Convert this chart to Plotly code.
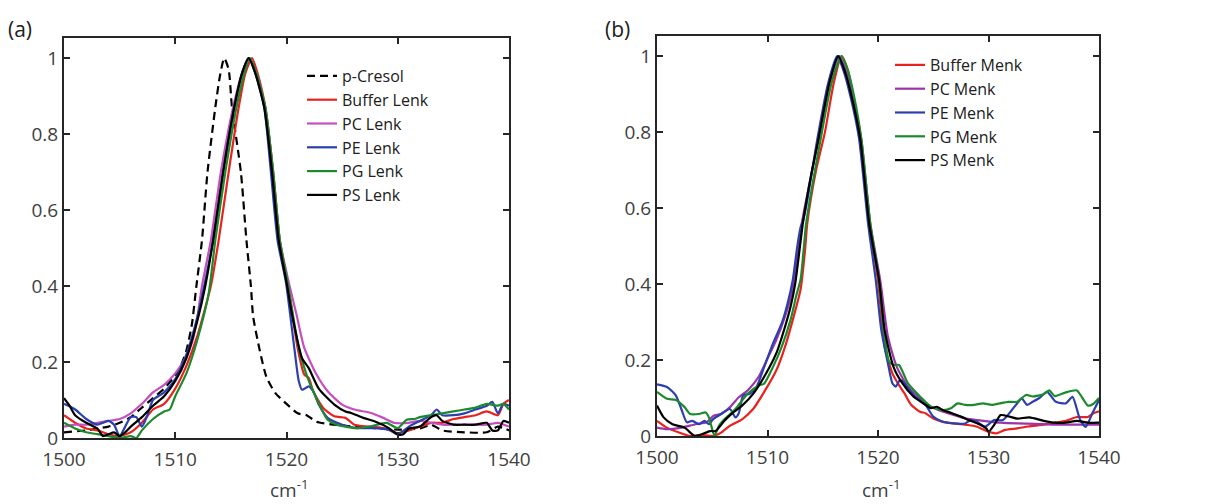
import plotly.graph_objects as go

# ---------------- Panel (a) data ----------------
pcresol_x = [1500, 1502, 1503, 1504, 1505, 1506, 1507, 1508, 1509, 1510, 1510.5, 1511, 1511.5, 1511.9, 1512.4, 1512.9, 1513.6, 1514.0, 1514.4,
             1514.8, 1515.1, 1515.9, 1516.4, 1516.8, 1517.0, 1517.6, 1518.2, 1519.0, 1520.0, 1521.0, 1521.8, 1522.7, 1524.0, 1527.0,
             1530.0, 1532.0, 1533.0, 1534.0, 1536.0, 1538.0, 1539.0, 1540.0]
pcresol_y = [0.015, 0.02, 0.025, 0.03, 0.04, 0.055, 0.08, 0.105, 0.13, 0.165, 0.19, 0.23, 0.30, 0.40, 0.52, 0.70, 0.87, 0.95, 1.0,
             0.97, 0.87, 0.70, 0.52, 0.40, 0.32, 0.23, 0.16, 0.118, 0.09, 0.065, 0.06, 0.043, 0.036, 0.028,
             0.022, 0.025, 0.035, 0.02, 0.015, 0.015, 0.03, 0.02]

buffer_lenk_x = [1500, 1501, 1502, 1503, 1504, 1505, 1506, 1507, 1508, 1509, 1510, 1511, 1512, 1513.2, 1513.9, 1514.8, 1515.7, 1516.3,
                 1516.9, 1517.4, 1518.1, 1518.8, 1519.4, 1520.1, 1521.0, 1521.6, 1522.0, 1522.4, 1523.3, 1524.3, 1525.3, 1526.1,
                 1527.1, 1528.7, 1530.0, 1531, 1532, 1533, 1534, 1535, 1536, 1537, 1538, 1539, 1539.5, 1540]
buffer_lenk_y = [0.06, 0.04, 0.025, 0.02, 0.01, 0.005, 0.015, 0.04, 0.075, 0.09, 0.13, 0.19, 0.27, 0.40, 0.52, 0.70, 0.87, 0.96,
                 1.0, 0.96, 0.87, 0.70, 0.52, 0.41, 0.237, 0.167, 0.158, 0.123, 0.079, 0.057, 0.053, 0.035,
                 0.031, 0.026, 0.013, 0.02, 0.03, 0.04, 0.04, 0.05, 0.055, 0.06, 0.07, 0.06, 0.09, 0.1]

pc_lenk_x = [1500, 1501, 1502, 1503, 1504, 1505, 1506, 1507, 1508, 1509, 1510, 1511, 1511.5, 1512, 1512.4, 1513.2, 1514.1, 1515.2,
             1516.0, 1516.6, 1517.3, 1518.1, 1518.8, 1519.4, 1520.2, 1520.9, 1521.6, 1522.7, 1523.7, 1525.0, 1526.1, 1527.6,
             1528.7, 1529.7, 1531, 1532, 1533, 1534, 1535, 1536, 1537, 1538, 1539, 1540]
pc_lenk_y = [0.03, 0.035, 0.035, 0.04, 0.045, 0.05, 0.065, 0.09, 0.12, 0.14, 0.17, 0.215, 0.25, 0.32, 0.40, 0.52, 0.70, 0.87,
             0.96, 1.0, 0.96, 0.87, 0.70, 0.52, 0.41, 0.325, 0.237, 0.167, 0.123, 0.088, 0.075, 0.066,
             0.053, 0.04, 0.04, 0.045, 0.04, 0.035, 0.035, 0.035, 0.035, 0.035, 0.04, 0.03]

pe_lenk_x = [1500, 1501, 1502, 1503, 1503.5, 1504, 1504.5, 1505, 1505.5, 1506, 1506.5, 1507, 1507.5, 1508, 1509, 1510, 1511, 1512,
             1512.6, 1513.4, 1514.3, 1515.3, 1516.0, 1516.6, 1517.2, 1518.0, 1518.6, 1519.2, 1519.95, 1520.7, 1521.1, 1521.4,
             1522.0, 1522.4, 1522.9, 1523.7, 1525.0, 1526.3, 1527.6, 1529.2, 1530.0, 1531, 1532, 1533, 1533.5, 1534, 1535, 1536,
             1537, 1538, 1538.5, 1539, 1539.5, 1540]
pe_lenk_y = [0.09, 0.075, 0.05, 0.035, 0.04, 0.045, 0.035, 0.005, 0.03, 0.055, 0.055, 0.03, 0.06, 0.1, 0.12, 0.155, 0.22, 0.32,
             0.40, 0.52, 0.70, 0.87, 0.96, 1.0, 0.96, 0.87, 0.70, 0.52, 0.41, 0.237, 0.15, 0.127,
             0.136, 0.123, 0.088, 0.053, 0.035, 0.026, 0.026, 0.022, 0.01, 0.03, 0.045, 0.06, 0.075, 0.06, 0.06, 0.065,
             0.075, 0.085, 0.095, 0.065, 0.09, 0.085]

pg_lenk_x = [1500, 1501, 1502, 1503, 1504, 1505, 1506, 1506.5, 1507, 1508, 1509, 1509.5, 1510, 1511, 1512, 1513, 1513.6, 1514.5,
             1515.5, 1516.2, 1516.7, 1517.3, 1518.1, 1518.8, 1519.4, 1520.1, 1521.1, 1521.8, 1522.4, 1523.1, 1523.7, 1524.5,
             1526.3, 1527.6, 1529.0, 1530.0, 1530.8, 1531.5, 1532, 1533, 1534, 1535, 1536, 1537, 1538, 1539, 1539.5, 1540]
pg_lenk_y = [0.04, 0.025, 0.015, 0.01, 0.005, 0.0, 0.005, 0.0, 0.02, 0.05, 0.07, 0.075, 0.11, 0.17, 0.26, 0.38, 0.52, 0.70,
             0.87, 0.96, 1.0, 0.96, 0.87, 0.70, 0.52, 0.41, 0.237, 0.167, 0.123, 0.079, 0.048, 0.035,
             0.026, 0.031, 0.04, 0.026, 0.048, 0.05, 0.055, 0.06, 0.065, 0.07, 0.075, 0.08, 0.09, 0.085, 0.09, 0.075]

ps_lenk_x = [1500, 1500.5, 1501, 1502, 1503, 1503.5, 1504, 1504.5, 1505, 1505.5, 1506, 1507, 1508, 1509, 1510, 1511, 1512, 1512.7,
             1513.4, 1514.3, 1515.3, 1516.0, 1516.6, 1517.2, 1518.0, 1518.7, 1519.3, 1520.0, 1520.5, 1521.4, 1522.0, 1522.9,
             1524.3, 1525.3, 1525.8, 1526.9, 1527.9, 1529.2, 1530.0, 1530.5, 1531, 1532, 1533, 1533.5, 1534, 1535, 1536, 1537,
             1538, 1538.5, 1539, 1539.5, 1540]
ps_lenk_y = [0.105, 0.085, 0.06, 0.04, 0.025, 0.005, 0.01, 0.015, 0.005, 0.015, 0.03, 0.055, 0.085, 0.11, 0.15, 0.21, 0.31, 0.40,
             0.52, 0.70, 0.87, 0.96, 1.0, 0.96, 0.87, 0.70, 0.52, 0.41, 0.325, 0.21, 0.184, 0.13,
             0.088, 0.07, 0.066, 0.053, 0.044, 0.026, 0.009, 0.01, 0.025, 0.03, 0.055, 0.06, 0.045, 0.035, 0.035, 0.035,
             0.04, 0.02, 0.02, 0.045, 0.04]

# ---------------- Panel (b) data ----------------
buffer_menk_x = [1500, 1500.9, 1502, 1503, 1504, 1505.1, 1505.8, 1506.6, 1507.7, 1508.7, 1509.7, 1510.8, 1511.6, 1512.3, 1513.0,
                 1513.4, 1513.6, 1514.4, 1515.2, 1516.0, 1516.7, 1517.3, 1517.9, 1518.4, 1519.2, 1520.0, 1520.6, 1521.3, 1521.9,
                 1522.4, 1523.0, 1523.8, 1524.3, 1525.0, 1525.8, 1526.8, 1528.1, 1528.9, 1530.0, 1530.7, 1531.5, 1532.6, 1533.6,
                 1535, 1536, 1537, 1538, 1539, 1539.5, 1540]
buffer_menk_y = [0.04, 0.022, 0.009, 0.0, 0.003, 0.0, 0.009, 0.027, 0.044, 0.071, 0.116, 0.173, 0.236, 0.307, 0.387,
                 0.49, 0.56, 0.70, 0.80, 0.93, 1.0, 0.96, 0.87, 0.78, 0.56, 0.41, 0.235, 0.165, 0.134,
                 0.112, 0.082, 0.064, 0.06, 0.046, 0.038, 0.033, 0.029, 0.025, 0.011, 0.007, 0.016, 0.02, 0.025,
                 0.03, 0.035, 0.04, 0.05, 0.05, 0.06, 0.065]

pc_menk_x = [1500, 1500.9, 1502.2, 1503.5, 1504.5, 1505.1, 1505.8, 1506.6, 1507.4, 1508.2, 1509.2, 1510.0, 1510.8, 1511.6, 1512.2,
             1512.6, 1513.1, 1514.6, 1515.6, 1516.5, 1517.1, 1517.9, 1518.5, 1519.3, 1520.2, 1520.9, 1521.7, 1522.7, 1523.8,
             1524.8, 1525.9, 1526.9, 1528.0, 1529.0, 1530.1, 1531.1, 1532.6, 1534.2, 1536, 1538, 1540]
pc_menk_y = [0.022, 0.018, 0.022, 0.031, 0.036, 0.053, 0.058, 0.076, 0.102, 0.12, 0.156, 0.204, 0.253, 0.316, 0.378,
             0.45, 0.56, 0.78, 0.93, 1.0, 0.96, 0.87, 0.78, 0.56, 0.41, 0.261, 0.182, 0.13, 0.099,
             0.077, 0.064, 0.055, 0.046, 0.042, 0.038, 0.035, 0.033, 0.032, 0.03, 0.03, 0.03]

pe_menk_x = [1500, 1500.9, 1501.7, 1502.2, 1502.7, 1503.2, 1503.8, 1504.3, 1504.7, 1505.1, 1505.8, 1506.6, 1507.1, 1507.4, 1507.8,
             1508.4, 1509.0, 1509.7, 1510.5, 1511.3, 1511.8, 1512.3, 1512.7, 1513.0, 1513.2, 1513.6, 1514.5, 1515.5, 1516.3,
             1516.9, 1517.7, 1518.3, 1519.1, 1519.8, 1520.3, 1520.9, 1521.3, 1521.6, 1522.0, 1522.4, 1523.2, 1524.3, 1525.0,
             1525.8, 1526.8, 1527.9, 1528.4, 1528.9, 1529.7, 1530.5, 1531.3, 1532.1, 1532.6, 1533.0, 1533.5, 1534.0, 1534.6,
             1535.3, 1536.1, 1537.0, 1537.6, 1538.3, 1538.8, 1539.4, 1540]
pe_menk_y = [0.136, 0.129, 0.107, 0.071, 0.036, 0.04, 0.031, 0.04, 0.031, 0.045, 0.058, 0.071, 0.049, 0.06, 0.107,
             0.111, 0.129, 0.182, 0.244, 0.298, 0.347, 0.413, 0.50, 0.55, 0.565, 0.62, 0.78, 0.93, 1.0,
             0.96, 0.87, 0.78, 0.56, 0.41, 0.279, 0.191, 0.139, 0.13, 0.147, 0.139, 0.108, 0.082, 0.051,
             0.038, 0.033, 0.033, 0.042, 0.038, 0.025, 0.042, 0.042, 0.068, 0.086, 0.099, 0.082, 0.09, 0.1,
             0.116, 0.09, 0.086, 0.103, 0.042, 0.024, 0.06, 0.095]

pg_menk_x = [1500, 1500.9, 1501.7, 1502.5, 1503.0, 1503.8, 1504.4, 1504.7, 1505.2, 1505.6, 1506.1, 1507.1, 1508.2, 1509.2, 1509.7,
             1510.5, 1511.3, 1512.1, 1512.6, 1513.0, 1513.3, 1513.5, 1514.8, 1515.8, 1516.7, 1517.3, 1518.0, 1518.5, 1519.3,
             1520.1, 1520.6, 1521.0, 1521.4, 1521.9, 1522.7, 1523.8, 1524.8, 1525.9, 1526.6, 1527.2, 1527.9, 1528.7, 1529.5,
             1530.3, 1531.0, 1531.8, 1532.6, 1533.4, 1534.0, 1535, 1535.5, 1536, 1537, 1538, 1538.5, 1539, 1539.5, 1540]
pg_menk_y = [0.116, 0.098, 0.095, 0.076, 0.058, 0.058, 0.062, 0.049, 0.0, 0.027, 0.044, 0.071, 0.111, 0.133, 0.138,
             0.182, 0.236, 0.307, 0.369, 0.413, 0.50, 0.56, 0.78, 0.93, 1.0, 0.96, 0.87, 0.78, 0.56,
             0.41, 0.261, 0.196, 0.187, 0.187, 0.139, 0.104, 0.077, 0.068, 0.073, 0.086, 0.082, 0.082, 0.086,
             0.082, 0.086, 0.09, 0.09, 0.108, 0.104, 0.11, 0.12, 0.105, 0.115, 0.12, 0.1, 0.08, 0.085, 0.1]

ps_menk_x = [1500, 1500.6, 1501.4, 1502.5, 1503.4, 1504.0, 1504.8, 1505.3, 1506.1, 1506.9, 1507.7, 1508.7, 1509.7, 1510.8, 1511.6,
             1512.1, 1512.5, 1512.9, 1513.2, 1513.9, 1514.6, 1515.6, 1516.4, 1517.0, 1517.8, 1518.4, 1519.2, 1520.1, 1520.6,
             1521.4, 1522.2, 1523.2, 1524.3, 1524.8, 1525.3, 1525.9, 1526.7, 1527.5, 1528.2, 1529.0, 1529.8, 1530.0, 1530.6,
             1531.1, 1531.9, 1532.6, 1533.7, 1535, 1536, 1537, 1538, 1539, 1540]
ps_menk_y = [0.08, 0.049, 0.031, 0.022, 0.0, 0.004, 0.013, 0.013, 0.04, 0.062, 0.08, 0.111, 0.156, 0.218, 0.289,
             0.342, 0.40, 0.49, 0.56, 0.68, 0.78, 0.93, 1.0, 0.96, 0.87, 0.78, 0.56, 0.41, 0.279,
             0.182, 0.139, 0.104, 0.082, 0.073, 0.077, 0.068, 0.06, 0.051, 0.042, 0.033, 0.02, 0.011, 0.033,
             0.055, 0.051, 0.046, 0.049, 0.04, 0.035, 0.035, 0.04, 0.035, 0.035]

x_ticks = [1500, 1510, 1520, 1530, 1540]
y_ticks = [0, 0.2, 0.4, 0.6, 0.8, 1]
y_tick_labels = ["0", "0.2", "0.4", "0.6", "0.8", "1"]

RED = "#e8231f"
MAG_A = "#c64fc0"
MAG_B = "#9b34a8"
BLUE = "#2b3fae"
GREEN = "#1b8a2c"
BLACK = "#000000"
FONT = "Open Sans"
LW = 2.2

fig = go.Figure()

def add(x, y, name, color, xa, ya, legend, dash="solid"):
    fig.add_trace(go.Scatter(x=x, y=y, name=name, mode="lines",
                             line=dict(color=color, width=LW, dash=dash, shape="spline", smoothing=0.6),
                             xaxis=xa, yaxis=ya, legend=legend))

add(pcresol_x, pcresol_y, "p-Cresol", BLACK, "x", "y", "legend", dash="8px,5px")
add(buffer_lenk_x, buffer_lenk_y, "Buffer Lenk", RED, "x", "y", "legend")
add(pc_lenk_x, pc_lenk_y, "PC Lenk", MAG_A, "x", "y", "legend")
add(pe_lenk_x, pe_lenk_y, "PE Lenk", BLUE, "x", "y", "legend")
add(pg_lenk_x, pg_lenk_y, "PG Lenk", GREEN, "x", "y", "legend")
add(ps_lenk_x, ps_lenk_y, "PS Lenk", BLACK, "x", "y", "legend")

add(buffer_menk_x, buffer_menk_y, "Buffer Menk", RED, "x2", "y2", "legend2")
add(pc_menk_x, pc_menk_y, "PC Menk", MAG_B, "x2", "y2", "legend2")
add(pe_menk_x, pe_menk_y, "PE Menk", BLUE, "x2", "y2", "legend2")
add(pg_menk_x, pg_menk_y, "PG Menk", GREEN, "x2", "y2", "legend2")
add(ps_menk_x, ps_menk_y, "PS Menk", BLACK, "x2", "y2", "legend2")

# page body has an 8px margin: figure is drawn from page pixel (8, 8)
OFF = 8
W, H = 1197, 496
AX = "#262626"

def px(x):
    return (x - OFF) / W

def py(y):
    return 1 - (y - OFF) / H

def xaxis(domain, anchor):
    return dict(domain=domain, anchor=anchor, range=[1500, 1540], tickvals=x_ticks, automargin=False,
                ticks="inside", ticklen=6, tickwidth=1.5, tickcolor=AX, ticklabelstandoff=3,
                showline=True, linecolor=AX, linewidth=2, mirror="ticks",
                showgrid=False, zeroline=False,
                tickfont=dict(family=FONT, size=19, color="#404040"))

def yaxis(domain, anchor):
    return dict(domain=domain, anchor=anchor, range=[0, 1.053], tickvals=y_ticks, ticktext=y_tick_labels,
                automargin=False,
                ticks="inside", ticklen=6, tickwidth=1.5, tickcolor=AX,
                showline=True, linecolor=AX, linewidth=2, mirror="ticks",
                showgrid=False, zeroline=False,
                tickfont=dict(family=FONT, size=19, color="#404040"))

xa_dom = [px(64), px(509)]
xb_dom = [px(657), px(1099)]
ya_dom = [py(438), py(38)]
yb_dom = [py(436), py(36)]

fig.update_layout(
    width=W, height=H,
    margin=dict(l=0, r=0, t=0, b=0, autoexpand=False),
    paper_bgcolor="white", plot_bgcolor="white",
    font=dict(family=FONT, color="#202020"),
    xaxis=xaxis(xa_dom, "y"), yaxis=yaxis(ya_dom, "x"),
    xaxis2=xaxis(xb_dom, "y2"), yaxis2=yaxis(yb_dom, "x2"),
    legend=dict(x=px(302), y=py(59), xanchor="left", yanchor="top",
                bgcolor="rgba(0,0,0,0)", font=dict(family=FONT, size=16, color="#202020"),
                tracegroupgap=0),
    legend2=dict(x=px(890), y=py(48), xanchor="left", yanchor="top",
                 bgcolor="rgba(0,0,0,0)", font=dict(family=FONT, size=16, color="#202020"),
                 tracegroupgap=0),
    annotations=[
        dict(text="(a)", x=px(6), y=py(29), xref="paper", yref="paper", xanchor="left", yanchor="middle",
             showarrow=False, font=dict(family=FONT, size=21, color="#202020")),
        dict(text="(b)", x=px(603), y=py(29), xref="paper", yref="paper", xanchor="left", yanchor="middle",
             showarrow=False, font=dict(family=FONT, size=21, color="#202020")),
        dict(text="cm<sup>-1</sup>", x=px((64 + 509) / 2 + 3), y=py(489), xref="paper", yref="paper",
             xanchor="center", yanchor="middle", showarrow=False, font=dict(family=FONT, size=19, color="#404040")),
        dict(text="cm<sup>-1</sup>", x=px((657 + 1099) / 2 + 3), y=py(489), xref="paper", yref="paper",
             xanchor="center", yanchor="middle", showarrow=False, font=dict(family=FONT, size=19, color="#404040")),
    ],
)

fig.write_html("out.html")
